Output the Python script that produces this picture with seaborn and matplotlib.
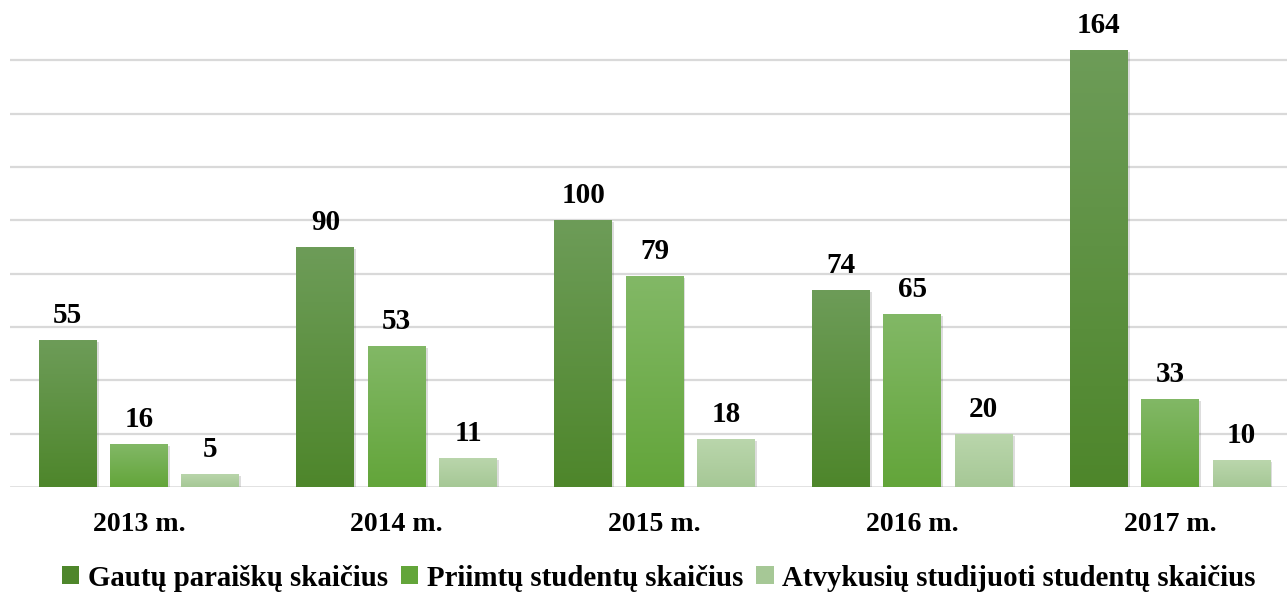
import numpy as np
import pandas as pd
import matplotlib.pyplot as plt
import matplotlib.patheffects as pe
from matplotlib.colors import LinearSegmentedColormap
from matplotlib.patches import Patch
import seaborn as sns

# Data
years = ["2013 m.", "2014 m.", "2015 m.", "2016 m.", "2017 m."]
series = ["Gautų paraiškų skaičius", "Priimtų studentų skaičius",
          "Atvykusių studijuoti studentų skaičius"]
gautu = [55, 90, 100, 74, 164]
priimtu = [16, 53, 79, 65, 33]
atvykusiu = [5, 11, 18, 20, 10]

# colors: (top, bottom) of gradient
grad_colors = [("#6d9c58", "#4e862b"), ("#82b866", "#63a53a"), ("#bad6ac", "#a6c896")]
base_colors = ["#5b8f3e", "#70ae4c", "#b2d0a2"]

df = pd.DataFrame({
    "year": years * 3,
    "series": [series[0]] * 5 + [series[1]] * 5 + [series[2]] * 5,
    "value": gautu + priimtu + atvykusiu,
})

sns.set_style("white")
plt.rcParams['font.family'] = ['Liberation Serif', 'DejaVu Serif']
plt.rcParams['font.weight'] = 'bold'
plt.rcParams['text.color'] = 'black'
plt.rcParams['xtick.color'] = 'black'

fig = plt.figure(figsize=(12.87, 5.93), dpi=100)
ax = fig.add_axes([10 / 1287, 1 - 487 / 593, 1289 / 1287, 480 / 593])

sns.barplot(data=df, x="year", y="value", hue="series", palette=base_colors,
            width=0.83, gap=0.19, ax=ax, legend=False, zorder=3, linewidth=0)

ax.set_ylim(0, 180)
ax.set_xlim(-0.5, 4.5)
ax.set_yticks(np.arange(20, 161, 20))
ax.yaxis.grid(True, color="#d9d9d9", linewidth=1.6, zorder=0)
ax.axhline(0, color="#d9d9d9", linewidth=1.8, zorder=2)
ax.set_yticklabels([])
ax.tick_params(axis="y", length=0)
ax.tick_params(axis="x", length=0, pad=18, labelsize=20, labelcolor="black")
for lbl in ax.get_xticklabels():
    lbl.set_fontweight("bold")
ax.set_xlabel("")
ax.set_ylabel("")
sns.despine(ax=ax, left=True, bottom=True)

# gradients + soft shadow
for i, cont in enumerate(ax.containers):
    top, bot = grad_colors[i]
    cmap = LinearSegmentedColormap.from_list("g%d" % i, [bot, top])
    for patch in cont.patches:
        patch.set_path_effects([pe.SimplePatchShadow(offset=(1.5, -1.5), alpha=0.18,
                                                     shadow_rgbFace="#444444"),
                                pe.Normal()])
        x0, y0 = patch.get_x(), patch.get_y()
        w, h = patch.get_width(), patch.get_height()
        grad = np.linspace(0, 1, 100).reshape(-1, 1)
        im = ax.imshow(grad, cmap=cmap, origin="lower", aspect="auto",
                       extent=[x0, x0 + w, y0, y0 + h], zorder=4)
        im.set_clip_path(patch)
    ax.bar_label(cont, padding=8, fontsize=21, fontweight="bold", color="black", zorder=5)

ax.set_xlim(-0.5, 4.5)
ax.set_ylim(0, 180)

# legend
handles = [Patch(facecolor=c[1], linewidth=0) for c in grad_colors]
fig.legend(handles, series, loc="center", bbox_to_anchor=(0.512, 1 - 578 / 593),
           ncol=3, frameon=False, handlelength=0.6, handleheight=0.6,
           handletextpad=0.3, columnspacing=0.45, labelcolor="black",
           prop={"weight": "bold", "size": 20.8})

fig.savefig("out.png", dpi=100)
